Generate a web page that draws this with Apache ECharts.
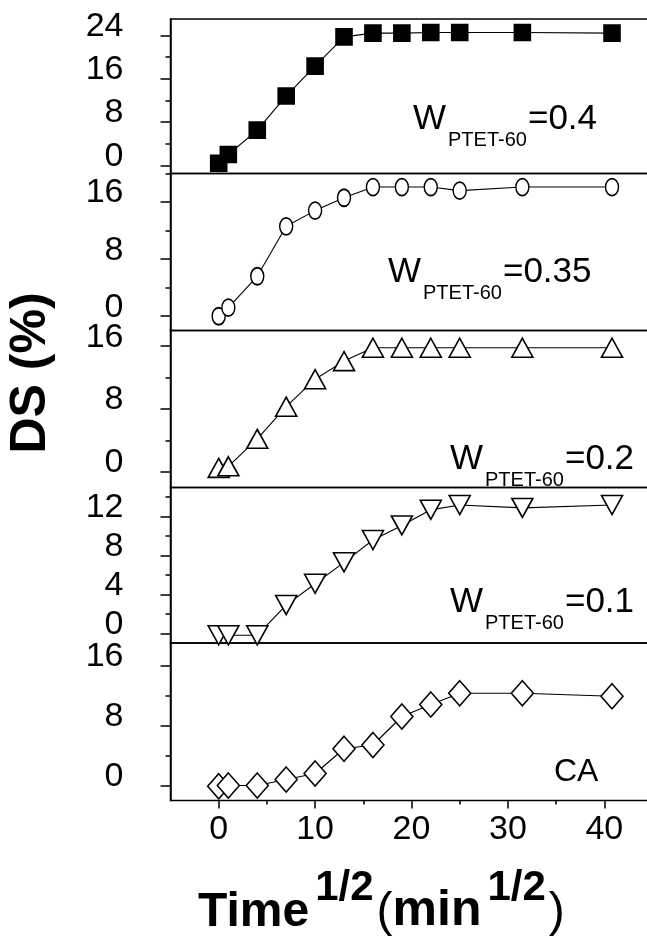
<!DOCTYPE html>
<html>
<head>
<meta charset="utf-8"/>
<title>DS vs Time</title>
<script src="https://cdn.jsdelivr.net/npm/echarts@6/dist/echarts.min.js"></script>
<style>
  html, body { margin: 0; padding: 0; background: #fff; }
  #main { width: 647px; height: 938px; }
</style>
</head>
<body>
<div id="main"></div>
<script type="text/javascript">
    // x values: Time^1/2 (min^1/2), shared by all five panels
    var timeSqrt = [0, 1, 4, 7, 10, 13, 16, 19, 22, 25, 31.5, 40.8];

    // DS (%) for each panel, top to bottom
    var ds04  = [0.4, 2.0, 6.5, 12.8, 18.3, 23.7, 24.4, 24.4, 24.5, 24.5, 24.5, 24.4];
    var ds035 = [0, 1.2, 5.6, 12.6, 14.8, 16.6, 18.1, 18.1, 18.1, 17.6, 18.1, 18.1];
    var ds02  = [0.5, 0.7, 4.2, 8.3, 11.8, 14.1, 15.8, 15.8, 15.8, 15.8, 15.8, 15.8];
    var ds01  = [-0.2, -0.2, -0.2, 2.9, 5.1, 7.3, 9.6, 11.1, 12.7, 13.2, 12.9, 13.2];
    var dsCA  = [-0.1, 0, 0, 0.8, 1.6, 4.9, 5.4, 9.2, 10.8, 12.3, 12.3, 11.9];

    // panel labels
    var panelLabels = ['0.4', '0.35', '0.2', '0.1', 'CA'];

    // tick labels
    var xTicks = [0, 10, 20, 30, 40];
    var xMinor = [5, 15, 25, 35];
    var yTicks = [[0, 8, 16, 24], [0, 8, 16], [0, 8, 16], [0, 4, 8, 12], [0, 8, 16]];
    var yMinor = [[4, 12, 20], [4, 12, 20], [4, 12], [2, 6, 10, 14], [4, 12]];
    var yRange = [[-1.5, 27], [-2, 20], [-2, 18], [-1, 15], [-2, 19]];

    var FONT = '"Liberation Sans", Arial, sans-serif';
    var chartDom = document.getElementById('main');
    var myChart = echarts.init(chartDom, null, { renderer: 'canvas' });

    var gridTop = [19, 173.5, 330.5, 487.5, 643];
    var gridH = [154.5, 157, 157, 155.5, 157.5];

    var grids = [], xAxes = [], yAxes = [], series = [];
    var allData = [ds04, ds035, ds02, ds01, dsCA];
    var symbols = [
        { symbol: 'rect', size: 16, fill: '#000', rotate: 0 },
        { symbol: 'circle', size: [13, 17], fill: '#fff', rotate: 0 },
        { symbol: 'triangle', size: [21, 19], fill: '#fff', rotate: 0 },
        { symbol: 'triangle', size: [21, 19], fill: '#fff', rotate: 180 },
        { symbol: 'diamond', size: [22, 25], fill: '#fff', rotate: 0 }
    ];

    for (var i = 0; i < 5; i++) {
        grids.push({
            left: 170.5, width: 482, top: gridTop[i], height: gridH[i],
            outerBoundsMode: 'none', containLabel: false,
            show: true, borderColor: '#000', borderWidth: 1.5, backgroundColor: 'transparent'
        });
        var last = i === 4;
        xAxes.push({
            gridIndex: i, type: 'value', position: 'bottom', min: -5, max: 45,
            show: last,
            axisLine: { show: false, onZero: false },
            axisTick: { show: last, customValues: xTicks, length: 8, lineStyle: { color: '#000', width: 1.5 } },
            axisLabel: { show: last, customValues: xTicks, margin: 12, fontSize: 34, color: '#000', fontFamily: FONT },
            splitLine: { show: false }
        });
        yAxes.push({
            gridIndex: i, type: 'value', position: 'left', min: yRange[i][0], max: yRange[i][1],
            axisLine: { show: true, onZero: false, lineStyle: { color: '#000', width: 1.5 } },
            axisTick: { show: true, customValues: yTicks[i], length: 10, lineStyle: { color: '#000', width: 1.5 } },
            axisLabel: {
                customValues: yTicks[i], margin: 47, fontSize: 34, color: '#000', fontFamily: FONT,
                verticalAlign: 'bottom', lineHeight: 18
            },
            splitLine: { show: false }
        });
        var pts = timeSqrt.map(function (t, k) { return [t, allData[i][k]]; });
        series.push({
            type: 'line', xAxisIndex: i, yAxisIndex: i, data: pts,
            symbol: symbols[i].symbol, symbolSize: symbols[i].size, symbolRotate: symbols[i].rotate,
            showAllSymbol: true,
            lineStyle: { color: '#000', width: 1.1 },
            itemStyle: { color: symbols[i].fill, borderColor: '#000', borderWidth: 1.6 },
            emphasis: { disabled: true },
            animation: false
        });
    }
    // minor ticks: extra axes on the same grids
    for (var j = 0; j < 5; j++) {
        yAxes.push({
            gridIndex: j, type: 'value', position: 'left', min: yRange[j][0], max: yRange[j][1],
            axisLine: { show: false, onZero: false },
            axisTick: { show: true, customValues: yMinor[j], length: 5, lineStyle: { color: '#000', width: 1.5 } },
            axisLabel: { show: false },
            splitLine: { show: false }
        });
    }
    xAxes.push({
        gridIndex: 4, type: 'value', position: 'bottom', min: -5, max: 45,
        axisLine: { show: false, onZero: false },
        axisTick: { show: true, customValues: xMinor, length: 4, lineStyle: { color: '#000', width: 1.5 } },
        axisLabel: { show: false },
        splitLine: { show: false }
    });

    // panel annotations W_PTET-60=...
    var annoPos = [[413, 102], [388, 255], [450, 442], [450, 585]];
    var titles = [];
    for (var a = 0; a < 4; a++) {
        titles.push({
            left: annoPos[a][0], top: annoPos[a][1], padding: 0,
            text: '{w|W}{s|PTET-60}{w|=' + panelLabels[a] + '}',
            textStyle: {
                fontWeight: 'normal',
                rich: {
                    w: { fontSize: 35, fontWeight: 'normal', fontFamily: FONT, color: '#000', verticalAlign: 'bottom', padding: [0, 0, 13, 0] },
                    s: { fontSize: 20, fontWeight: 'normal', fontFamily: FONT, color: '#000', verticalAlign: 'bottom', padding: [0, 1, 0, 2] }
                }
            }
        });
    }
    titles.push({
        left: 554, top: 756, padding: 0, text: panelLabels[4],
        textStyle: { fontSize: 32, fontWeight: 'normal', fontFamily: FONT, color: '#000' }
    });
    // x axis title
    titles.push({
        left: 198, top: 867, padding: 0,
        text: '{t|Time}{u|1/2}{p|(}{m|min}{u|1/2}{p|)}',
        textStyle: {
            rich: {
                t: { fontSize: 48, fontWeight: 'bold', fontFamily: FONT, color: '#000', verticalAlign: 'bottom' },
                u: { fontSize: 42, fontWeight: 'bold', fontFamily: FONT, color: '#000', verticalAlign: 'bottom', padding: [0, 3, 28, 6] },
                p: { fontSize: 48, fontWeight: 'normal', fontFamily: FONT, color: '#000', verticalAlign: 'bottom', padding: [0, 0, 0, 0] },
                m: { fontSize: 50, fontWeight: 'bold', fontFamily: FONT, color: '#000', verticalAlign: 'bottom', padding: [0, 0, 1, 0] }
            }
        }
    });

    var option = {
        animation: false,
        backgroundColor: '#fff',
        title: titles,
        grid: grids,
        xAxis: xAxes,
        yAxis: yAxes,
        series: series,
        graphic: [{
            type: 'text', x: 31, y: 373, rotation: Math.PI / 2,
            style: { text: 'DS (%)', font: 'bold 50px "Liberation Sans", Arial, sans-serif', fill: '#000', align: 'center', verticalAlign: 'middle' }
        }]
    };

    myChart.setOption(option);
</script>
</body>
</html>
